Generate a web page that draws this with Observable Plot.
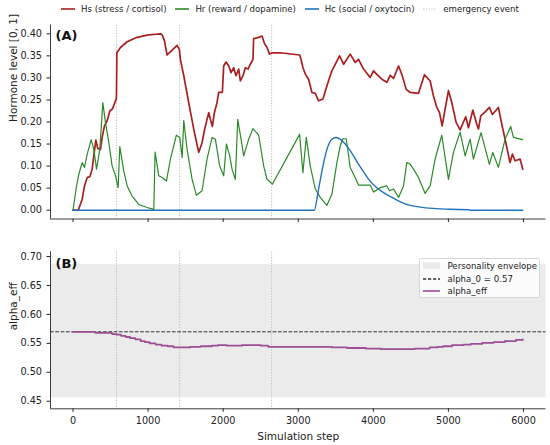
<!DOCTYPE html>
<html>
<head>
<meta charset="utf-8">
<script src="https://cdn.jsdelivr.net/npm/d3@7"></script>
<script src="https://cdn.jsdelivr.net/npm/@observablehq/plot@0.6"></script>
<style>
  body { margin: 0; background: #fff; }
  #wrap { position: relative; width: 550px; height: 445px; font-family: "DejaVu Sans", sans-serif; color: #222; overflow: hidden; }
  #wrap > svg { position: absolute; left: 0; }
  .toplegend { position: absolute; left: 61px; top: 2px; height: 14px; display: flex; align-items: center; font-size: 8.6px; white-space: nowrap; }
  .toplegend .item { display: flex; align-items: center; margin-right: 8.8px; }
  .toplegend .lbl { margin-left: 6px; }
  .blegend { position: absolute; left: 419.3px; top: 257.7px; width: 121px; height: 40px; box-sizing: border-box; border: 1px solid #d6d6d6; border-radius: 2.5px; background: rgba(255,255,255,0.8); font-size: 8.6px; }
  .blegend .row { position: absolute; left: 2.4px; height: 12px; display: flex; align-items: center; white-space: nowrap; }
  .blegend .lbl { margin-left: 7.5px; }
</style>
</head>
<body>
<div id="wrap"></div>
<script>
// ---------- data ----------
const xTicks = [0, 1000, 2000, 3000, 4000, 5000, 6000];
const yTicksA = [0, 0.05, 0.10, 0.15, 0.20, 0.25, 0.30, 0.35, 0.40];
const yTicksB = [0.45, 0.50, 0.55, 0.60, 0.65, 0.70];
const emergencyEvents = [580, 1420, 2645];

const hsStress = [[0,0],[70,0],[122,0.025],[153,0.055],[189,0.074],[224,0.076],[255,0.093],[277,0.123],[304,0.159],[330,0.140],[366,0.138],[388,0.165],[419,0.191],[455,0.203],[490,0.225],[526,0.230],[557,0.244],[578,0.253],[584,0.357],[632,0.369],[721,0.382],[854,0.392],[987,0.397],[1100,0.399],[1164,0.400],[1187,0.398],[1218,0.384],[1253,0.352],[1297,0.359],[1386,0.374],[1417,0.364],[1430,0.342],[1475,0.305],[1541,0.244],[1608,0.184],[1674,0.131],[1719,0.153],[1754,0.184],[1785,0.206],[1808,0.221],[1830,0.206],[1856,0.190],[1883,0.221],[1918,0.244],[1940,0.267],[1989,0.267],[2007,0.327],[2038,0.336],[2074,0.327],[2105,0.312],[2140,0.323],[2171,0.305],[2207,0.320],[2229,0.293],[2264,0.305],[2295,0.323],[2331,0.320],[2362,0.331],[2397,0.342],[2406,0.389],[2473,0.392],[2517,0.395],[2548,0.379],[2584,0.369],[2619,0.354],[2655,0.357],[2761,0.357],[3019,0.352],[3040,0.340],[3063,0.323],[3094,0.309],[3107,0.305],[3138,0.297],[3182,0.267],[3227,0.265],[3271,0.248],[3329,0.252],[3382,0.282],[3448,0.316],[3550,0.350],[3604,0.331],[3692,0.354],[3759,0.335],[3803,0.342],[3870,0.320],[3958,0.301],[4003,0.316],[4047,0.308],[4114,0.297],[4180,0.290],[4225,0.306],[4269,0.299],[4336,0.327],[4380,0.308],[4438,0.274],[4491,0.267],[4602,0.265],[4681,0.307],[4757,0.293],[4801,0.259],[4846,0.233],[4881,0.222],[4917,0.191],[4956,0.229],[5001,0.271],[5045,0.244],[5103,0.199],[5156,0.182],[5231,0.212],[5267,0.187],[5325,0.227],[5378,0.195],[5400,0.184],[5431,0.214],[5489,0.223],[5546,0.233],[5586,0.217],[5666,0.233],[5711,0.195],[5755,0.161],[5821,0.108],[5852,0.127],[5888,0.112],[5955,0.116],[5990,0.093]];

const hrReward = [[0,0],[47,0.055],[78,0.082],[122,0.108],[153,0.097],[189,0.127],[242,0.160],[277,0.138],[313,0.093],[357,0.138],[397,0.244],[432,0.199],[477,0.153],[521,0.100],[566,0.078],[601,0.051],[623,0.144],[676,0.089],[721,0.055],[787,0.032],[876,0.013],[987,0.006],[1076,0.002],[1093,0.132],[1142,0.078],[1187,0.074],[1244,0.066],[1297,0.116],[1377,0.170],[1422,0.165],[1453,0.119],[1475,0.203],[1519,0.138],[1586,0.070],[1643,0.034],[1719,0.044],[1785,0.116],[1852,0.165],[1896,0.161],[1954,0.100],[2007,0.078],[2043,0.150],[2087,0.123],[2118,0.093],[2162,0.070],[2194,0.206],[2238,0.161],[2273,0.123],[2340,0.161],[2397,0.185],[2473,0.170],[2540,0.100],[2584,0.070],[2655,0.059],[3018,0.172],[3062,0.085],[3107,0.165],[3160,0.100],[3227,0.048],[3293,0.029],[3382,0.011],[3448,0.036],[3515,0.108],[3559,0.146],[3595,0.162],[3639,0.162],[3692,0.097],[3746,0.078],[3803,0.057],[3958,0.057],[4003,0.041],[4091,0.051],[4180,0.055],[4216,0.044],[4269,0.048],[4336,0.029],[4402,0.055],[4446,0.108],[4491,0.104],[4535,0.093],[4602,0.074],[4690,0.038],[4757,0.055],[4823,0.116],[4912,0.170],[5001,0.070],[5067,0.131],[5156,0.177],[5223,0.123],[5289,0.161],[5333,0.116],[5435,0.176],[5546,0.104],[5591,0.131],[5666,0.097],[5755,0.161],[5830,0.190],[5866,0.165],[5990,0.160]];

const hcSocial = [[0,0],[3213,0],[3271,0.048],[3329,0.100],[3382,0.138],[3448,0.161],[3506,0.165],[3559,0.161],[3626,0.150],[3692,0.135],[3781,0.110],[3870,0.087],[3958,0.066],[4047,0.051],[4136,0.040],[4225,0.031],[4358,0.019],[4491,0.011],[4624,0.007],[4801,0.004],[5023,0.002],[5267,0.001],[5290,0],[5990,0]];

const alphaEff = [[0,0.570],[300,0.568],[520,0.566],[580,0.565],[640,0.563],[700,0.561],[760,0.559],[830,0.557],[900,0.554],[960,0.552],[1020,0.550],[1100,0.548],[1180,0.546],[1260,0.545],[1340,0.543],[1560,0.544],[1700,0.545],[1850,0.546],[1930,0.547],[2050,0.546],[2250,0.547],[2500,0.546],[2600,0.544],[3450,0.543],[3650,0.542],[3900,0.541],[4100,0.540],[4550,0.541],[4750,0.543],[4850,0.544],[4930,0.545],[5050,0.547],[5200,0.548],[5300,0.549],[5450,0.551],[5600,0.552],[5750,0.554],[5900,0.556],[5990,0.557]];

const alpha0 = 0.57;
const envelope = [0.456, 0.686];

const seriesNames = ["Hs (stress / cortisol)", "Hr (reward / dopamine)", "Hc (social / oxytocin)", "emergency event"];
const legendB = ["Personality envelope", "alpha_0 = 0.57", "alpha_eff"];

// ---------- style ----------
const C = { hs: "#a91f1f", hr: "#2a8a2a", hc: "#1f72c0", ev: "#b5b5b5", alpha: "#9c4f96", env: "#ebebeb", axis: "#262626" };
const xDomain = [-300, 6300];
const yDomainA = [-0.02, 0.42];
const yDomainB = [0.437, 0.708];
const baseStyle = { fontFamily: "DejaVu Sans", fontSize: "9.7px", color: "#222", background: "none", overflow: "visible" };
const X = d => d[0], Y = d => d[1];

const wrap = document.getElementById("wrap");

// ---------- panel A ----------
const plotA = Plot.plot({
  width: 550, height: 230,
  marginLeft: 50, marginRight: 4.5, marginTop: 24.5, marginBottom: 11.5,
  x: { domain: xDomain },
  y: { domain: yDomainA },
  style: baseStyle,
  marks: [
    Plot.ruleX(emergencyEvents, { stroke: C.ev, strokeWidth: 0.9, strokeDasharray: "1.2,1.6" }),
    Plot.line(hsStress, { x: X, y: Y, stroke: C.hs, strokeWidth: 1.7 }),
    Plot.line(hrReward, { x: X, y: Y, stroke: C.hr, strokeWidth: 1.2 }),
    Plot.line(hcSocial, { x: X, y: Y, stroke: C.hc, strokeWidth: 1.4, curve: "monotone-x" }),
    Plot.ruleX([xDomain[0]], { stroke: C.axis, strokeWidth: 0.9 }),
    Plot.ruleY([yDomainA[0]], { stroke: C.axis, strokeWidth: 0.9 }),
    Plot.axisY({ ticks: yTicksA, tickFormat: d3.format(".2f"), tickSize: 3.5, tickPadding: 5, label: null, stroke: C.axis }),
    Plot.axisX({ ticks: xTicks, tickFormat: () => "", tickSize: 3.5, label: null, stroke: C.axis }),
    Plot.text(["Hormone level [0, 1]"], { frameAnchor: "left", rotate: -90, dx: -37, text: d => d, fontSize: 10.5, fill: "#222" }),
    Plot.text(["(A)"], { frameAnchor: "top-left", dx: 5, dy: 10.5, textAnchor: "start", lineAnchor: "middle", text: d => d, fontWeight: "bold", fontSize: 13, fill: "#111" })
  ]
});
plotA.style.top = "0px";
wrap.appendChild(plotA);

// ---------- panel B ----------
const plotB = Plot.plot({
  width: 550, height: 215,
  marginLeft: 50, marginRight: 4.5, marginTop: 21.4, marginBottom: 36.7,
  x: { domain: xDomain },
  y: { domain: yDomainB },
  style: baseStyle,
  marks: [
    Plot.rect([envelope], { x1: xDomain[0], x2: xDomain[1], y1: d => d[0], y2: d => d[1], fill: C.env }),
    Plot.ruleX(emergencyEvents, { stroke: C.ev, strokeWidth: 0.9, strokeDasharray: "1.2,1.6" }),
    Plot.ruleY([alpha0], { stroke: "#333", strokeWidth: 1, strokeDasharray: "3.7,1.6" }),
    Plot.line(alphaEff, { x: X, y: Y, stroke: C.alpha, strokeWidth: 1.8, curve: "step-after" }),
    Plot.ruleX([xDomain[0]], { stroke: C.axis, strokeWidth: 0.9 }),
    Plot.ruleY([yDomainB[0]], { stroke: C.axis, strokeWidth: 0.9 }),
    Plot.axisY({ ticks: yTicksB, tickFormat: d3.format(".2f"), tickSize: 3.5, tickPadding: 5, label: null, stroke: C.axis }),
    Plot.axisX({ ticks: xTicks, tickFormat: d3.format("d"), tickSize: 3.5, tickPadding: 4.5, label: null, stroke: C.axis }),
    Plot.text(["alpha_eff"], { frameAnchor: "left", rotate: -90, dx: -37, text: d => d, fontSize: 10.5, fill: "#222" }),
    Plot.text(["Simulation step"], { frameAnchor: "bottom", dy: 27.7, lineAnchor: "middle", text: d => d, fontSize: 10.5, fill: "#222" }),
    Plot.text(["(B)"], { frameAnchor: "top-left", dx: 5, dy: 12, textAnchor: "start", lineAnchor: "middle", text: d => d, fontWeight: "bold", fontSize: 13, fill: "#111" })
  ]
});
plotB.style.top = "230px";
wrap.appendChild(plotB);

// ---------- legends ----------
function swatch(kind, color) {
  const h = 8;
  if (kind === "patch") return `<svg width="17.3" height="7" style="display:block"><rect x="0" y="0" width="17.3" height="7" fill="${color}"/></svg>`;
  const dash = kind === "dotted" ? `stroke-dasharray="1.2,1.6"` : kind === "dashed" ? `stroke-dasharray="3.2,1.8"` : "";
  const sw = kind === "dotted" ? 0.9 : 1.6;
  const ww = (kind === "dashed" || kind === "lineB") ? 17.3 : 14;
  return `<svg width="${ww}" height="${h}" style="display:block"><line x1="0" x2="${ww}" y1="${h/2}" y2="${h/2}" stroke="${color}" stroke-width="${sw}" ${dash}/></svg>`;
}

const topLegend = document.createElement("div");
topLegend.className = "toplegend";
const topKinds = [["line", C.hs], ["line", C.hr], ["line", C.hc], ["dotted", C.ev]];
topLegend.innerHTML = seriesNames.map((s, i) => `<div class="item">${swatch(topKinds[i][0], topKinds[i][1])}<span class="lbl">${s}</span></div>`).join("");
wrap.appendChild(topLegend);

const bLegend = document.createElement("div");
bLegend.className = "blegend";
const bKinds = [["patch", C.env], ["dashed", "#333"], ["lineB", C.alpha]];
const rowTops = [1.3, 14, 26.6];
bLegend.innerHTML = legendB.map((s, i) => `<div class="row" style="top:${rowTops[i]}px">${swatch(bKinds[i][0], bKinds[i][1])}<span class="lbl">${s}</span></div>`).join("");
wrap.appendChild(bLegend);
</script>
</body>
</html>
